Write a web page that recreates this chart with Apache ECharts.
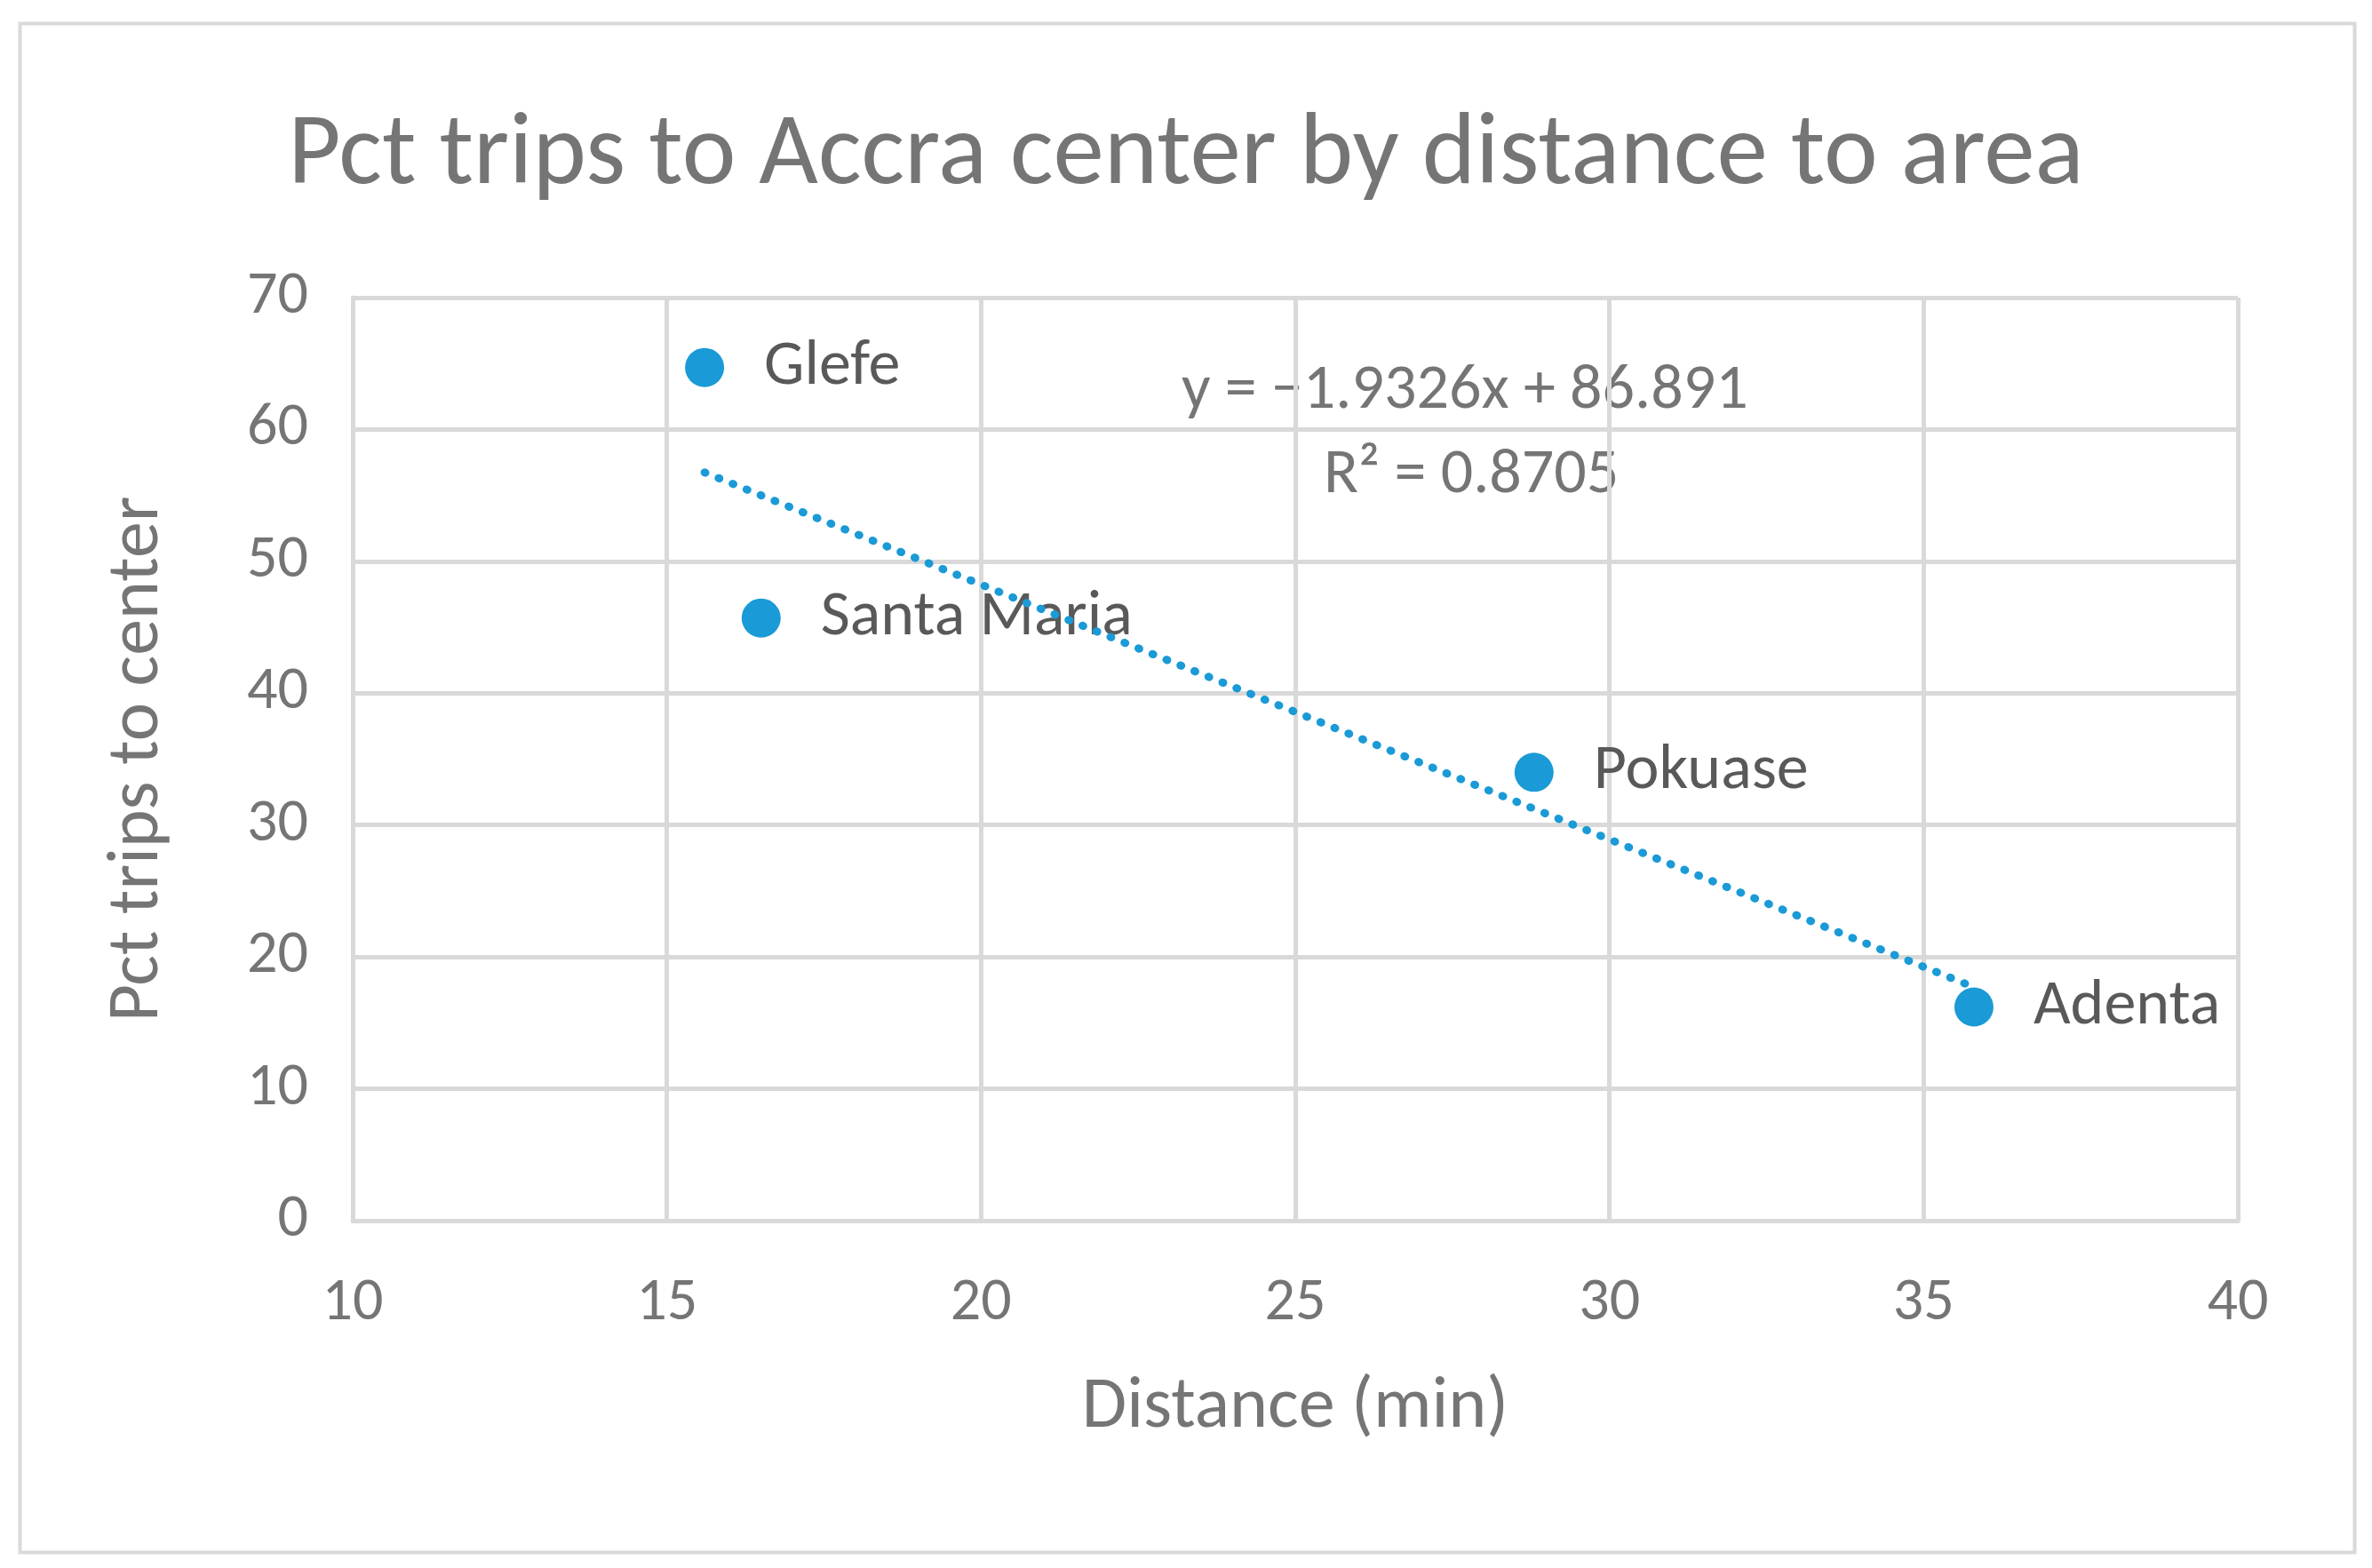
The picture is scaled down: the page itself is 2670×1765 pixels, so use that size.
<!DOCTYPE html>
<html><head><meta charset="utf-8">
<script src="https://cdn.jsdelivr.net/npm/echarts@6/dist/echarts.min.js"></script>
<style>html,body{margin:0;padding:0;background:#fff}#c{width:2670px;height:1765px}</style>
</head><body><div id="c"></div>
<script>
const names = ['Glefe','Santa Maria','Pokuase','Adenta'];
const distance = [15.6, 16.5, 28.8, 35.8];
const pctTrips = [64.7, 45.7, 34.0, 16.2];
const slope = -1.9326, intercept = 86.891;
const font = 'Calibri, Carlito, Lato, sans-serif';
const xs = [Math.min(...distance), Math.max(...distance)];
const trend = xs.map(x => [x, slope * x + intercept]);
const chart = echarts.init(document.getElementById('c'));
chart.setOption({
  backgroundColor: '#fff',
  title: { text: 'Pct trips to Accra center by distance to area', left: 'center', top: 115,
    textStyle: { fontFamily: font, fontSize: 115, fontWeight: 'normal', color: '#757575' } },
  grid: { left: 397, right: 151, top: 335, bottom: 391 },
  xAxis: { type: 'value', min: 10, max: 40, interval: 5, name: 'Distance (min)', nameLocation: 'middle', nameGap: 170,
    nameTextStyle: { fontFamily: font, fontSize: 82, color: '#757575' },
    axisLine: { show: true, lineStyle: { color: '#d9d9d9', width: 5 } }, axisTick: { show: false },
    axisLabel: { fontFamily: font, fontSize: 68, color: '#757575', margin: 60 },
    splitLine: { show: true, lineStyle: { color: '#d9d9d9', width: 5 } } },
  yAxis: { type: 'value', min: 0, max: 70, interval: 10, name: 'Pct trips to center', nameLocation: 'middle', nameGap: 200,
    nameTextStyle: { fontFamily: font, fontSize: 82, color: '#757575' },
    axisLine: { show: true, lineStyle: { color: '#d9d9d9', width: 5 } }, axisTick: { show: false },
    axisLabel: { fontFamily: font, fontSize: 68, color: '#757575', margin: 50 },
    splitLine: { show: true, lineStyle: { color: '#d9d9d9', width: 5 } } },
  graphic: [
    { type: 'rect', left: 20, top: 24, shape: { width: 2628, height: 1721 }, style: { fill: 'none', stroke: '#d9d9d9', lineWidth: 4 } },
    { type: 'text', left: 1330, top: 405, style: { text: 'y = −1.9326x + 86.891', fontFamily: font, fontSize: 72, fill: '#757575' } },
    { type: 'text', left: 1490, top: 500, style: { text: 'R² = 0.8705', fontFamily: font, fontSize: 72, fill: '#757575' } }
  ],
  series: [
    { type: 'line', data: trend, symbol: 'none', silent: true,
      lineStyle: { color: '#1a9ad6', width: 9, type: [1, 16], cap: 'round' } },
    { type: 'scatter', data: distance.map((x, i) => [x, pctTrips[i], names[i]]), symbolSize: 44,
      itemStyle: { color: '#1a9ad6', opacity: 1 },
      label: { show: true, position: 'right', distance: 45, formatter: p => p.value[2],
        fontFamily: font, fontSize: 72, color: '#595959' } }
  ]
});
</script></body></html>
